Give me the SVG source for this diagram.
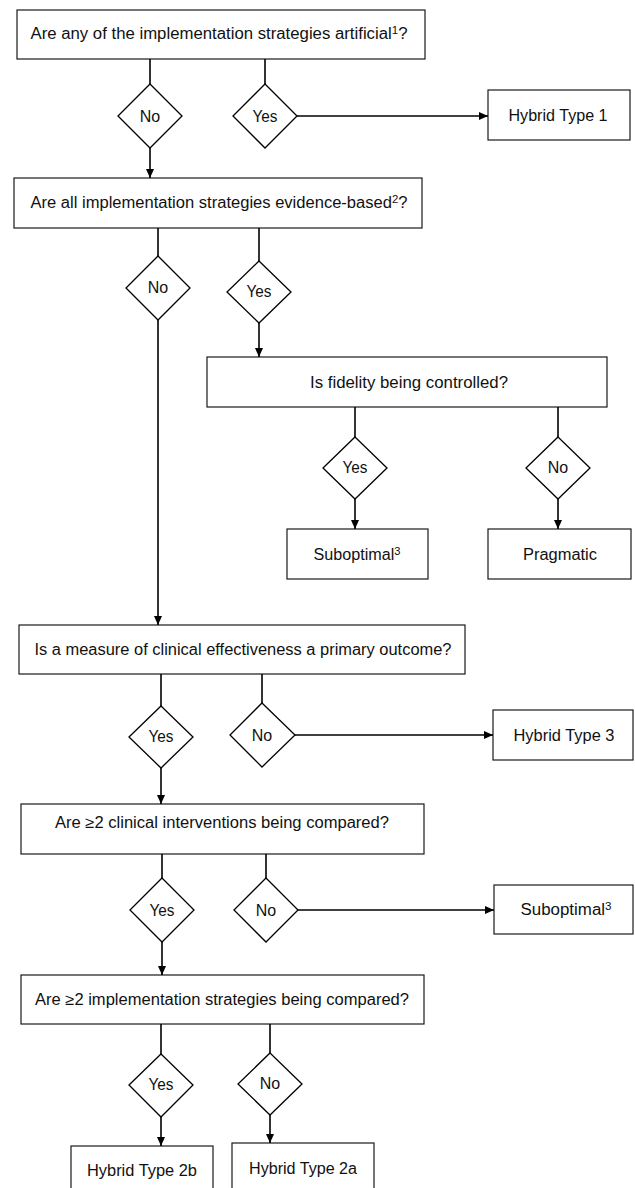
<svg xmlns="http://www.w3.org/2000/svg" width="635" height="1188" viewBox="0 0 635 1188">
<style>
.box{fill:#fff;stroke:#1a1a1a;stroke-width:1.2}
.dia{fill:#fff;stroke:#000;stroke-width:1.3}
.t{font-family:"Liberation Sans",Arial,sans-serif;font-size:16px;fill:#111;text-anchor:middle}
.s{font-size:11px}
.c{stroke:#000;stroke-width:1.6;fill:none}
.a{marker-end:url(#ah)}
</style>
<defs>
<marker id="ah" markerUnits="userSpaceOnUse" markerWidth="9" markerHeight="8" refX="9" refY="4" orient="auto">
<path d="M0,0 L9,4 L0,8 z" fill="#000"/>
</marker>
</defs>
<rect width="635" height="1188" fill="#fff"/>

<g id="q1"><rect class="box" x="17" y="10" width="408" height="49"/><text class="t" x="219" y="39" textLength="377" lengthAdjust="spacingAndGlyphs">Are any of the implementation strategies artificial<tspan class="s" dy="-5">1</tspan><tspan dy="5">?</tspan></text></g>
<g id="d1no"><polygon class="dia" points="150,84 182,116 150,148 118,116"/><text class="t" x="150" y="122">No</text></g>
<g id="d1yes"><polygon class="dia" points="265,84 297,116 265,148 233,116"/><text class="t" x="265" y="122" textLength="25" lengthAdjust="spacingAndGlyphs">Yes</text></g>
<g id="ht1"><rect class="box" x="488" y="90" width="142" height="50"/><text class="t" x="558" y="121" textLength="99" lengthAdjust="spacingAndGlyphs">Hybrid Type 1</text></g>

<g id="q2"><rect class="box" x="14" y="178" width="408" height="50"/><text class="t" x="219" y="208" textLength="377" lengthAdjust="spacingAndGlyphs">Are all implementation strategies evidence-based<tspan class="s" dy="-5">2</tspan><tspan dy="5">?</tspan></text></g>
<g id="d2no"><polygon class="dia" points="158,256 190,288 158,320 126,288"/><text class="t" x="158" y="293">No</text></g>
<g id="d2yes"><polygon class="dia" points="259,261 291,292 259,323 227,292"/><text class="t" x="259" y="297" textLength="25" lengthAdjust="spacingAndGlyphs">Yes</text></g>

<g id="q3"><rect class="box" x="207" y="357" width="400" height="50"/><text class="t" x="409" y="388" textLength="198" lengthAdjust="spacingAndGlyphs">Is fidelity being controlled?</text></g>
<g id="d3yes"><polygon class="dia" points="355,437 387,468 355,499 323,468"/><text class="t" x="355" y="473" textLength="25" lengthAdjust="spacingAndGlyphs">Yes</text></g>
<g id="d3no"><polygon class="dia" points="558,437 590,468 558,499 526,468"/><text class="t" x="558" y="473">No</text></g>
<g id="sub1"><rect class="box" x="287" y="529" width="141" height="50"/><text class="t" x="357" y="560" textLength="87" lengthAdjust="spacingAndGlyphs">Suboptimal<tspan class="s" dy="-5">3</tspan></text></g>
<g id="prag"><rect class="box" x="488" y="529" width="143" height="50"/><text class="t" x="560" y="560" textLength="74" lengthAdjust="spacingAndGlyphs">Pragmatic</text></g>

<g id="q4"><rect class="box" x="19" y="625" width="446" height="49"/><text class="t" x="243" y="655" textLength="417" lengthAdjust="spacingAndGlyphs">Is a measure of clinical effectiveness a primary outcome?</text></g>
<g id="d5yes"><polygon class="dia" points="161,706 193,737 161,768 129,737"/><text class="t" x="161" y="742" textLength="25" lengthAdjust="spacingAndGlyphs">Yes</text></g>
<g id="d5no"><polygon class="dia" points="262,703 295,735 262,767 230,735"/><text class="t" x="262" y="741">No</text></g>
<g id="ht3"><rect class="box" x="493" y="710" width="140" height="50"/><text class="t" x="564" y="741" textLength="101" lengthAdjust="spacingAndGlyphs">Hybrid Type 3</text></g>

<g id="q5"><rect class="box" x="21" y="804" width="403" height="50"/><text class="t" x="222" y="828" textLength="334" lengthAdjust="spacingAndGlyphs">Are ≥2 clinical interventions being compared?</text></g>
<g id="d6yes"><polygon class="dia" points="162,878 194,910 162,942 130,910"/><text class="t" x="162" y="916" textLength="25" lengthAdjust="spacingAndGlyphs">Yes</text></g>
<g id="d6no"><polygon class="dia" points="266,878 298,910 266,942 234,910"/><text class="t" x="266" y="916">No</text></g>
<g id="sub2"><rect class="box" x="494" y="885" width="139" height="49"/><text class="t" x="566" y="915" textLength="91" lengthAdjust="spacingAndGlyphs">Suboptimal<tspan class="s" dy="-5">3</tspan></text></g>

<g id="q6"><rect class="box" x="21" y="975" width="403" height="49"/><text class="t" x="222" y="1005" textLength="374" lengthAdjust="spacingAndGlyphs">Are ≥2 implementation strategies being compared?</text></g>
<g id="d7yes"><polygon class="dia" points="161,1054 193,1085 161,1117 129,1085"/><text class="t" x="161" y="1090" textLength="25" lengthAdjust="spacingAndGlyphs">Yes</text></g>
<g id="d7no"><polygon class="dia" points="270,1053 302,1084 270,1115 238,1084"/><text class="t" x="270" y="1089">No</text></g>
<g id="ht2b"><rect class="box" x="71" y="1146" width="142" height="60"/><text class="t" x="142" y="1176" textLength="110" lengthAdjust="spacingAndGlyphs">Hybrid Type 2b</text></g>
<g id="ht2a"><rect class="box" x="232" y="1143" width="142" height="60"/><text class="t" x="303" y="1174" textLength="108" lengthAdjust="spacingAndGlyphs">Hybrid Type 2a</text></g>

<g id="connectors">
<line class="c" x1="150" y1="59" x2="150" y2="84"/>
<line class="c" x1="265" y1="59" x2="265" y2="84"/>
<line class="c a" x1="297" y1="116" x2="488" y2="116"/>
<line class="c a" x1="150" y1="148" x2="150" y2="178"/>
<line class="c" x1="158" y1="228" x2="158" y2="256"/>
<line class="c" x1="259" y1="228" x2="259" y2="261"/>
<line class="c a" x1="158" y1="320" x2="158" y2="625"/>
<line class="c a" x1="259" y1="323" x2="259" y2="357"/>
<line class="c" x1="355" y1="407" x2="355" y2="437"/>
<line class="c" x1="558" y1="407" x2="558" y2="437"/>
<line class="c a" x1="355" y1="499" x2="355" y2="529"/>
<line class="c a" x1="558" y1="499" x2="558" y2="529"/>
<line class="c" x1="161" y1="674" x2="161" y2="706"/>
<line class="c" x1="262" y1="674" x2="262" y2="703"/>
<line class="c a" x1="295" y1="735" x2="493" y2="735"/>
<line class="c a" x1="161" y1="768" x2="161" y2="804"/>
<line class="c" x1="162" y1="854" x2="162" y2="878"/>
<line class="c" x1="266" y1="854" x2="266" y2="878"/>
<line class="c a" x1="298" y1="910" x2="494" y2="910"/>
<line class="c a" x1="162" y1="942" x2="162" y2="975"/>
<line class="c" x1="161" y1="1024" x2="161" y2="1054"/>
<line class="c" x1="270" y1="1024" x2="270" y2="1053"/>
<line class="c a" x1="161" y1="1117" x2="161" y2="1146"/>
<line class="c a" x1="270" y1="1115" x2="270" y2="1143"/>
</g>
</svg>
